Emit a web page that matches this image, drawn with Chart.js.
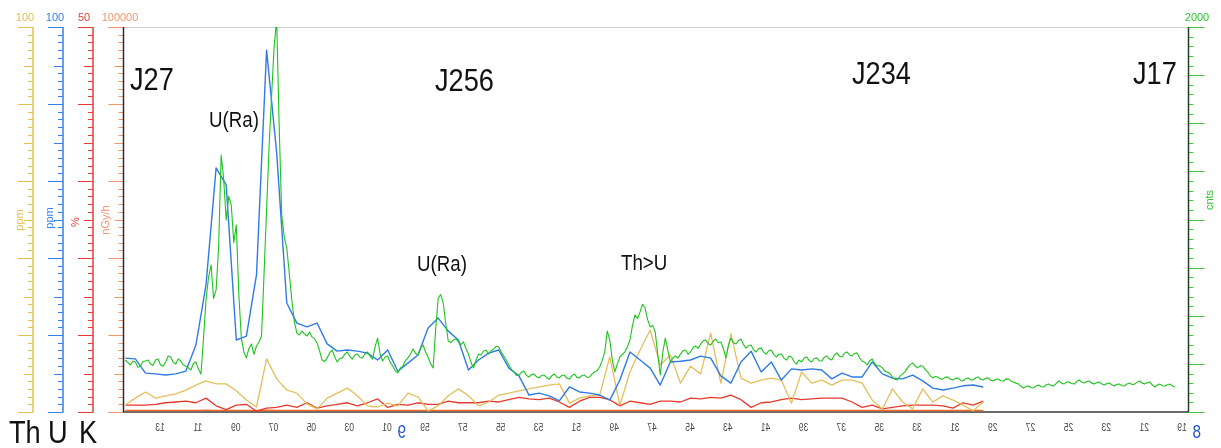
<!DOCTYPE html>
<html>
<head>
<meta charset="utf-8">
<script src="https://cdn.jsdelivr.net/npm/chart.js@4.4.1/dist/chart.umd.min.js"></script>
<style>
  html, body { margin: 0; padding: 0; background: #ffffff; }
  #wrap { width: 1221px; height: 448px; position: relative; }
</style>
</head>
<body>
<div id="wrap"><canvas id="profile" width="1221" height="448"></canvas></div>
<script>
// Airborne gamma-ray profile along flight lines J27 – J17.
// Time axis: seconds after 08:00, running right-to-left (09:13 on the left).

// Spectrometer channels, one reading every 32 s
const coarseStart = 4490;
const coarseStep = 32;

const thPpm = [
  1.8, 3.6, 5.2, 3.6, 4.2, 4.7, 5.7, 7.0, 8.1, 7.3,
  7.3, 5.5, 3.1, 1.3, 13.8, 8.6, 5.7, 4.9, 2.1, 0.8,
  3.6, 4.9, 6.2, 4.2, 1.6, 1.3, 2.3, 1.6, 4.9, 3.9,
  0.3, 1.6, 4.2, 6.0, 4.2, 1.6, 2.6, 4.4, 4.9, 5.5,
  6.0, 6.5, 7.0, 7.3, 2.3, 3.6, 4.2, 4.4, 14.3, 1.8,
  10.4, 16.1, 21.3, 12.2, 14.8, 7.5, 11.9, 9.9, 20.5, 7.5,
  20.3, 8.8, 7.5, 8.3, 8.8, 8.3, 2.3, 10.4, 7.5, 8.3,
  7.0, 8.3, 8.3, 7.5, 3.1, 0.8, 6.0, 2.6, 0.8, 6.0,
  2.6, 4.2, 3.1, 1.8, 0.3, 2.6
];

const uPpm = [
  14.0, 13.8, 10.1, 9.9, 9.6, 9.9, 10.6, 17.4, 33.0, 63.4,
  59.0, 18.7, 19.7, 35.6, 94.0, 67.3, 28.3, 23.1, 22.1, 23.1,
  17.7, 15.8, 16.1, 15.8, 15.3, 13.5, 16.1, 10.6, 12.7, 14.8,
  21.8, 24.4, 21.0, 18.7, 10.9, 13.5, 15.3, 16.1, 11.4, 9.4,
  4.4, 4.9, 4.2, 2.9, 6.5, 5.2, 4.9, 4.4, 3.1, 8.3,
  15.6, 13.5, 11.4, 7.0, 13.0, 13.2, 13.5, 14.5, 14.0, 9.4,
  7.5, 13.0, 15.8, 10.4, 13.0, 8.3, 11.2, 10.9, 11.2, 10.9,
  8.6, 10.1, 9.1, 9.1, 13.0, 9.9, 8.8, 8.6, 9.6, 8.1,
  6.2, 5.7, 6.2, 6.8, 7.0, 6.5
];

const kPct = [
  0.9, 0.9, 0.9, 1.0, 1.2, 1.3, 1.4, 1.2, 1.8, 0.8,
  0.3, 0.9, 1.0, 0.1, 0.5, 0.6, 0.9, 0.6, 1.2, 0.5,
  0.8, 1.0, 1.2, 0.8, 1.2, 1.7, 0.6, 1.0, 0.9, 1.2,
  1.0, 1.0, 1.4, 1.2, 1.2, 1.2, 1.4, 1.3, 1.6, 1.9,
  1.7, 1.6, 1.8, 1.3, 0.6, 1.4, 1.9, 1.9, 1.6, 0.8,
  1.4, 1.2, 1.0, 1.4, 1.4, 1.3, 1.8, 1.7, 1.9, 1.8,
  2.2, 1.6, 0.6, 1.2, 1.3, 1.6, 1.8, 1.6, 1.7, 1.8,
  1.8, 1.8, 1.3, 0.6, 0.9, 0.4, 0.6, 0.8, 0.9, 0.9,
  0.9, 0.8, 0.5, 1.2, 0.9, 1.4
];

const doseRate = [
  420, 410, 400, 410, 420, 410, 400, 410, 430, 410,
  390, 400, 410, 380, 440, 420, 400, 400, 410, 390,
  400, 410, 410, 400, 400, 410, 390, 400, 400, 410,
  400, 400, 410, 410, 400, 400, 410, 400, 410, 420,
  410, 410, 420, 410, 390, 400, 420, 420, 410, 390,
  410, 410, 400, 410, 410, 400, 420, 410, 420, 410,
  420, 410, 390, 400, 400, 410, 420, 410, 410, 420,
  410, 420, 400, 390, 400, 390, 390, 400, 400, 400,
  400, 400, 390, 400, 400, 410
];

// Total count channel, one reading every 8 s
const cntsStart = 4490;
const cntsStep = 8;

const totalCounts = [
  270, 258, 244, 265, 260, 232, 239, 262, 265, 270,
  249, 242, 270, 275, 244, 238, 260, 291, 286, 258,
  249, 276, 265, 244, 239, 229, 218, 252, 260, 223,
  197, 380, 582, 700, 764, 590, 634, 860, 1335, 1210,
  997, 1120, 1075, 880, 971, 610, 384, 312, 281, 330,
  353, 300, 343, 364, 395, 720, 1049, 1380, 1647, 1900,
  2036, 1480, 1023, 910, 852, 720, 582, 470, 410, 400,
  421, 406, 395, 415, 390, 380, 358, 318, 270, 262,
  281, 308, 322, 286, 260, 278, 281, 300, 312, 288,
  275, 296, 301, 283, 281, 303, 312, 290, 275, 340,
  384, 300, 265, 286, 291, 258, 239, 214, 203, 228,
  239, 266, 281, 300, 327, 305, 296, 330, 348, 312,
  286, 250, 229, 430, 592, 610, 566, 460, 369, 360,
  374, 380, 364, 350, 364, 330, 301, 258, 229, 270,
  301, 296, 317, 322, 301, 318, 327, 342, 338, 310,
  291, 270, 244, 222, 208, 190, 192, 206, 213, 190,
  182, 194, 197, 183, 177, 190, 192, 178, 171, 188,
  197, 182, 177, 190, 192, 176, 171, 189, 197, 180,
  177, 190, 192, 180, 182, 198, 208, 216, 234, 268,
  312, 420, 374, 270, 208, 250, 286, 300, 312, 340,
  374, 450, 504, 486, 520, 560, 540, 480, 442, 450,
  416, 300, 192, 310, 384, 320, 260, 282, 291, 280,
  301, 318, 322, 300, 312, 335, 343, 330, 353, 370,
  374, 355, 348, 368, 379, 360, 364, 330, 281, 345,
  384, 360, 353, 372, 379, 350, 332, 345, 348, 322,
  312, 330, 332, 310, 301, 318, 322, 298, 286, 300,
  301, 280, 270, 290, 286, 262, 249, 270, 260, 280,
  286, 268, 260, 278, 281, 266, 265, 285, 291, 275,
  270, 296, 307, 290, 286, 305, 312, 296, 291, 304,
  307, 280, 265, 258, 244, 266, 275, 250, 239, 240,
  229, 212, 208, 200, 182, 170, 166, 186, 197, 210,
  229, 246, 255, 238, 229, 240, 239, 220, 208, 188,
  177, 184, 182, 172, 171, 181, 182, 170, 166, 176,
  177, 164, 161, 173, 177, 167, 166, 178, 182, 170,
  166, 176, 177, 165, 161, 170, 171, 162, 161, 172,
  171, 160, 156, 150, 145, 132, 125, 133, 135, 126,
  125, 136, 140, 131, 130, 142, 145, 137, 135, 150,
  161, 150, 145, 155, 156, 148, 145, 158, 166, 155,
  151, 158, 161, 150, 145, 153, 156, 145, 140, 148,
  151, 140, 135, 144, 145, 136, 135, 146, 151, 142,
  145, 155, 161, 150, 145, 153, 156, 140, 130, 141,
  145, 136, 135, 142, 145, 135, 130
];

// Time ticks every 2 minutes, labelled with the minute of the hour
const tickTimes = [
  4380, 4260, 4140, 4020, 3900, 3780, 3660, 3540, 3420, 3300,
  3180, 3060, 2940, 2820, 2700, 2580, 2460, 2340, 2220, 2100,
  1980, 1860, 1740, 1620, 1500, 1380, 1260, 1140
];
const tickLabels = [
  '13', '11', '09', '07', '05', '03', '01', '59', '57', '55',
  '53', '51', '49', '47', '45', '43', '41', '39', '37', '35',
  '33', '31', '29', '27', '25', '23', '21', '19'
];
const hourTimes = [3600, 1080];
const hourLabels = ['9', '8'];

// Flight line names and anomaly notes
const lineNames = ['J27', 'J256', 'J234', 'J17'];
const notes = ['U(Ra)', 'U(Ra)', 'Th>U'];

const PLAIN = "'Liberation Sans', Arial, sans-serif";
const SQUEEZE = 0.85; // condensed lettering for the large captions

const C_TH = '#e4bf5a';
const C_U = '#2f7be3';
const C_K = '#e53a2c';
const C_DOSE = '#ec6a26';
const C_CNTS = '#1ec31e';

const series = (arr, start, step) => arr.map((v, i) => ({ x: start - i * step, y: v }));

const leftAxes = [
  { scale: 'yTh', x: 33, color: '#e6c04e', top: '100', title: 'ppm', topX: 25, titleX: 20, titleY: 220, name: 'Th', nameX: 9 },
  { scale: 'yU', x: 63, color: '#3580e6', top: '100', title: 'ppm', topX: 55, titleX: 50, titleY: 218, name: 'U', nameX: 48 },
  { scale: 'yK', x: 93, color: '#e83c34', top: '50', title: '%', topX: 84, titleX: 76, titleY: 222, name: 'K', nameX: 79 },
  { scale: 'yDose', x: 123.5, color: '#f2956a', top: '100000', title: 'nGy/h', topX: 120, titleX: 106, titleY: 220, name: '', nameX: 0 }
];

function seg(ctx, x1, y1, x2, y2) {
  ctx.beginPath();
  ctx.moveTo(x1, y1);
  ctx.lineTo(x2, y2);
  ctx.stroke();
}

// text with horizontal compression (negative factor mirrors it)
function squeezed(ctx, text, x, y, factor, align) {
  ctx.save();
  ctx.translate(x, y);
  ctx.scale(factor, 1);
  ctx.textAlign = align;
  ctx.fillText(text, 0, 0);
  ctx.restore();
}

const decor = {
  id: 'decor',
  beforeDatasetsDraw(chart) {
    const { ctx, chartArea: a } = chart;
    ctx.save();
    ctx.lineWidth = 1;
    ctx.strokeStyle = '#d0d0d0';
    seg(ctx, a.left, a.top + 0.5, a.right, a.top + 0.5);
    ctx.lineWidth = 2;
    ctx.strokeStyle = '#6a6a6a';
    seg(ctx, a.left, a.bottom, a.right + 1, a.bottom);
    ctx.restore();
  },
  afterDraw(chart) {
    const { ctx, scales } = chart;
    ctx.save();
    ctx.textBaseline = 'alphabetic';

    // left-hand value axes: Th, U, K, dose rate
    leftAxes.forEach(ax => {
      const s = scales[ax.scale];
      ctx.strokeStyle = ax.color;
      ctx.lineWidth = 1;
      for (let i = 0; i <= 50; i++) {
        const v = s.min + (s.max - s.min) * i / 50;
        const y = Math.round(s.getPixelForValue(v)) + 0.5;
        const len = i % 10 === 0 ? 15 : (i % 5 === 0 ? 9 : 5);
        seg(ctx, ax.x - len, y, ax.x, y);
      }
      ctx.lineWidth = 1.5;
      ctx.strokeStyle = ax.scale === 'yDose' ? '#2a2a2a' : ax.color;
      seg(ctx, ax.x, s.getPixelForValue(s.max), ax.x, s.getPixelForValue(s.min) + 0.5);

      ctx.fillStyle = ax.color;
      ctx.font = '11px ' + PLAIN;
      ctx.textAlign = 'center';
      ctx.fillText(ax.top, ax.topX, 21);

      ctx.save();
      ctx.translate(ax.titleX, ax.titleY);
      ctx.rotate(-Math.PI / 2);
      ctx.textBaseline = 'middle';
      ctx.font = '11px ' + PLAIN;
      ctx.fillText(ax.title, 0, 0);
      ctx.restore();

      if (ax.name) {
        ctx.fillStyle = '#111111';
        ctx.font = '32px ' + PLAIN;
        squeezed(ctx, ax.name, ax.nameX, 443, SQUEEZE, 'left');
      }
    });

    // right-hand total count axis
    const sc = scales.yCnts;
    const rx = 1188.5;
    ctx.strokeStyle = '#3cc83c';
    ctx.lineWidth = 1;
    for (let i = 0; i <= 40; i++) {
      const v = sc.min + (sc.max - sc.min) * i / 40;
      const y = Math.round(sc.getPixelForValue(v)) + 0.5;
      const len = i % 5 === 0 ? 16 : 5;
      seg(ctx, rx, y, rx + len, y);
    }
    ctx.lineWidth = 1.5;
    ctx.strokeStyle = '#264026';
    seg(ctx, rx, sc.getPixelForValue(sc.max), rx, sc.getPixelForValue(sc.min));
    ctx.fillStyle = '#2fc42f';
    ctx.font = '11px ' + PLAIN;
    ctx.textAlign = 'center';
    ctx.fillText('2000', 1197, 21);
    ctx.save();
    ctx.translate(1210, 200);
    ctx.rotate(-Math.PI / 2);
    ctx.textBaseline = 'middle';
    ctx.fillText('cnts', 0, 0);
    ctx.restore();

    // time labels, printed mirror-wise as on the original strip chart
    const sx = scales.x;
    ctx.fillStyle = '#444444';
    ctx.font = '10px ' + PLAIN;
    tickTimes.forEach((t, i) => {
      squeezed(ctx, tickLabels[i], sx.getPixelForValue(t), 431, -0.85, 'center');
    });
    ctx.fillStyle = '#2456c8';
    ctx.font = '18px ' + PLAIN;
    hourTimes.forEach((t, i) => {
      squeezed(ctx, hourLabels[i], sx.getPixelForValue(t), 438, -SQUEEZE, 'left');
    });

    // flight line names
    ctx.fillStyle = '#111111';
    ctx.font = '32px ' + PLAIN;
    const namePos = [[130, 90], [435, 91], [852, 84], [1133, 84]];
    lineNames.forEach((n, i) => squeezed(ctx, n, namePos[i][0], namePos[i][1], SQUEEZE, 'left'));

    // anomaly notes
    ctx.font = '22px ' + PLAIN;
    const notePos = [[209, 127], [417, 271], [621, 270]];
    notes.forEach((n, i) => squeezed(ctx, n, notePos[i][0], notePos[i][1], SQUEEZE, 'left'));

    ctx.restore();
  }
};

const lineStyle = { pointRadius: 0, tension: 0, fill: false, borderJoinStyle: 'round' };

new Chart(document.getElementById('profile'), {
  type: 'line',
  data: {
    datasets: [
      { label: 'cnts', data: series(totalCounts, cntsStart, cntsStep), yAxisID: 'yCnts', borderColor: C_CNTS, borderWidth: 1.1, ...lineStyle },
      { label: 'U', data: series(uPpm, coarseStart, coarseStep), yAxisID: 'yU', borderColor: C_U, borderWidth: 1.4, ...lineStyle },
      { label: 'Th', data: series(thPpm, coarseStart, coarseStep), yAxisID: 'yTh', borderColor: C_TH, borderWidth: 1.3, ...lineStyle },
      { label: 'K', data: series(kPct, coarseStart, coarseStep), yAxisID: 'yK', borderColor: C_K, borderWidth: 1.3, ...lineStyle },
      { label: 'nGy/h', data: series(doseRate, coarseStart, coarseStep), yAxisID: 'yDose', borderColor: C_DOSE, borderWidth: 1.5, ...lineStyle }
    ]
  },
  options: {
    responsive: false,
    animation: false,
    events: [],
    layout: { padding: { left: 124, right: 33, top: 27, bottom: 36 } },
    plugins: { legend: { display: false }, tooltip: { enabled: false } },
    scales: {
      x: { type: 'linear', reverse: true, min: 1121, max: 4494, display: false },
      yTh: { type: 'linear', min: 0, max: 100, display: false },
      yU: { type: 'linear', min: 0, max: 100, display: false },
      yK: { type: 'linear', min: 0, max: 50, display: false },
      yDose: { type: 'linear', min: 0, max: 100000, display: false },
      yCnts: { type: 'linear', min: 0, max: 2000, display: false, position: 'right' }
    }
  },
  plugins: [decor]
});
</script>
</body>
</html>
